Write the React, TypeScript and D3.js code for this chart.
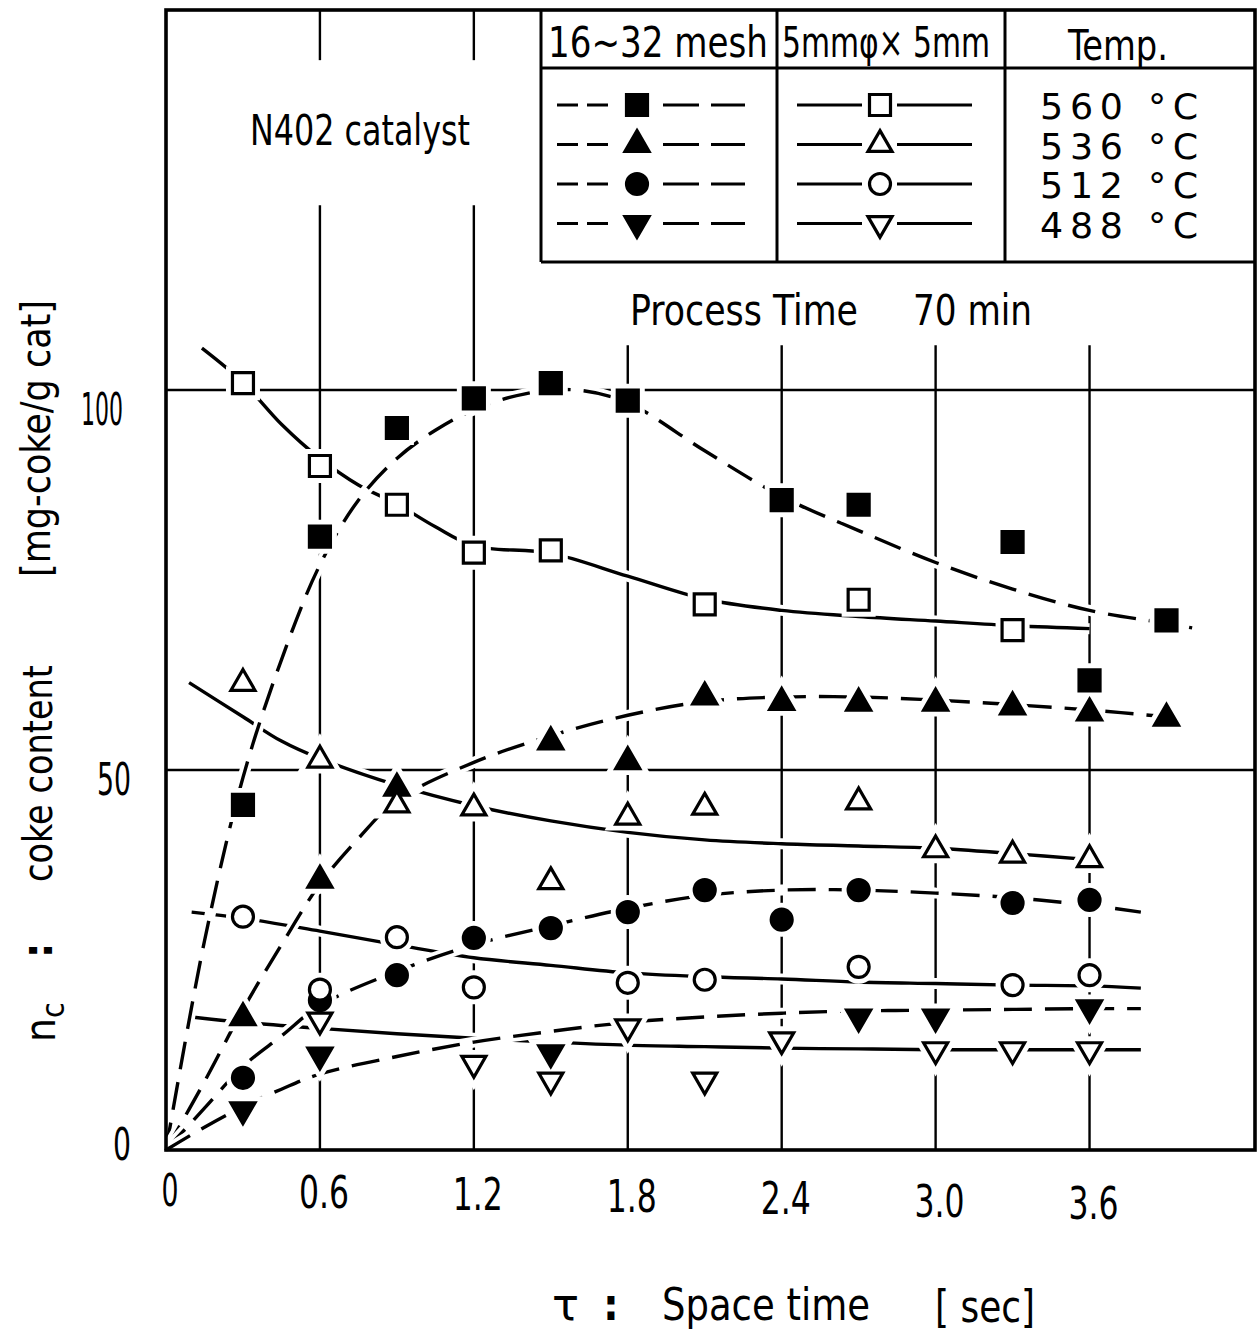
import React from "react";
import * as d3 from "d3";

type Pt = [number, number];

// ---- measured coke content [mg-coke/g cat] vs space time [sec] ----
// 16–32 mesh particles (filled symbols, dashed trend lines)
const mesh560: Pt[] = [[0.3, 45.4], [0.6, 80.7], [0.9, 95.0], [1.2, 98.9], [1.5, 100.9], [1.8, 98.6], [2.4, 85.5], [2.7, 84.9], [3.3, 80.0], [3.6, 61.8], [3.9, 69.7]];
const mesh536: Pt[] = [[0.3, 17.4], [0.6, 35.5], [0.9, 47.6], [1.5, 53.7], [1.8, 51.1], [2.1, 59.6], [2.4, 58.9], [2.7, 58.8], [3.0, 58.8], [3.3, 58.3], [3.6, 57.5], [3.9, 56.8]];
const mesh512: Pt[] = [[0.3, 9.5], [0.6, 19.7], [0.9, 23.0], [1.2, 27.9], [1.5, 29.2], [1.8, 31.3], [2.1, 34.2], [2.4, 30.3], [2.7, 34.2], [3.3, 32.5], [3.6, 32.9]];
const mesh488: Pt[] = [[0.3, 5.3], [0.6, 12.5], [1.5, 12.8], [2.7, 17.5], [3.0, 17.5], [3.6, 18.7]];

// 5mmφ × 5mm pellets (open symbols, solid trend lines)
const pellet560: Pt[] = [[0.3, 100.9], [0.6, 90.0], [0.9, 84.9], [1.2, 78.6], [1.5, 78.9], [2.1, 71.8], [2.7, 72.4], [3.3, 68.4]];
const pellet536: Pt[] = [[0.3, 61.4], [0.6, 51.3], [0.9, 45.4], [1.2, 45.0], [1.5, 35.3], [1.8, 43.8], [2.1, 45.1], [2.7, 45.8], [3.0, 39.5], [3.3, 38.8], [3.6, 38.2]];
const pellet512: Pt[] = [[0.3, 30.7], [0.6, 21.1], [0.9, 28.0], [1.2, 21.4], [1.8, 22.0], [2.1, 22.4], [2.7, 24.1], [3.3, 21.7], [3.6, 23.0]];
const pellet488: Pt[] = [[0.6, 17.1], [1.2, 11.4], [1.5, 9.2], [1.8, 16.2], [2.1, 9.2], [2.4, 14.5], [3.0, 13.2], [3.3, 13.2], [3.6, 13.2]];

// ---- hand-drawn trend curves ----
const mesh560Trend: Pt[] = [[0, 0], [0.15, 27.5], [0.3, 49], [0.45, 64.5], [0.6, 77], [0.75, 85.5], [0.9, 91], [1.05, 94.7], [1.2, 97.4], [1.4, 99.5], [1.6, 100], [1.8, 98.3], [2.1, 92], [2.4, 86], [2.7, 81.5], [3.0, 77.3], [3.3, 73.8], [3.6, 71], [3.9, 69.3], [4.0, 68.7]];
const mesh536Trend: Pt[] = [[0, 0], [0.15, 9], [0.3, 18.5], [0.45, 27], [0.6, 35], [0.75, 41], [0.9, 46], [1.2, 51], [1.5, 54.5], [1.8, 57.2], [2.1, 59], [2.4, 59.6], [2.7, 59.6], [3.0, 59.2], [3.3, 58.6], [3.6, 57.9], [3.9, 57]];
const mesh512Trend: Pt[] = [[0, 0], [0.15, 5.5], [0.3, 11], [0.45, 15], [0.6, 19], [0.9, 23.5], [1.2, 27], [1.5, 29.5], [1.8, 31.8], [2.1, 33.5], [2.4, 34.2], [2.7, 34.2], [3.0, 33.8], [3.3, 33.2], [3.6, 32.2], [3.8, 31.3]];
const mesh488Trend: Pt[] = [[0, 0], [0.15, 3], [0.3, 5.7], [0.45, 8], [0.6, 10], [0.9, 12.3], [1.2, 14.2], [1.5, 15.6], [1.8, 16.8], [2.1, 17.5], [2.4, 18.0], [2.7, 18.3], [3.0, 18.4], [3.3, 18.5], [3.6, 18.6], [3.8, 18.6]];

const pellet560Trend: Pt[] = [[0.14, 105.5], [0.3, 101], [0.45, 95.5], [0.6, 91], [0.75, 87.5], [0.9, 85], [1.05, 82], [1.2, 79.5], [1.5, 78.5], [1.8, 75.5], [2.1, 72.5], [2.4, 71], [2.7, 70.2], [3.0, 69.6], [3.3, 69.0], [3.6, 68.6]];
const pellet536Trend: Pt[] = [[0.09, 61.5], [0.3, 57], [0.45, 53.8], [0.6, 51.5], [0.9, 48], [1.2, 45.3], [1.5, 43.3], [1.8, 41.8], [2.1, 40.8], [2.4, 40.3], [2.7, 40.0], [3.0, 39.7], [3.3, 39.0], [3.6, 38.2]];
const pellet512Trend: Pt[] = [[0.1, 31.3], [0.3, 30.5], [0.6, 28.8], [0.9, 27], [1.2, 25.3], [1.5, 24.3], [1.8, 23.3], [2.1, 22.8], [2.4, 22.5], [2.7, 22.1], [3.0, 21.9], [3.3, 21.7], [3.6, 21.6], [3.8, 21.3]];
const pellet488Trend: Pt[] = [[0.1, 17.5], [0.3, 16.8], [0.6, 16.0], [0.9, 15.3], [1.2, 14.7], [1.5, 14.2], [1.8, 13.8], [2.1, 13.6], [2.4, 13.4], [2.7, 13.3], [3.0, 13.2], [3.3, 13.2], [3.6, 13.2], [3.8, 13.2]];

// ---- axis ticks and legend labels ----
const xTicks = [0, 0.6, 1.2, 1.8, 2.4, 3.0, 3.6];
const xTickLabels = ["0", "0.6", "1.2", "1.8", "2.4", "3.0", "3.6"];
const yTicks = [0, 50, 100];
const yTickLabels = ["0", "50", "100"];
const xGrid = [0.6, 1.2, 1.8, 2.4, 3.0, 3.6];
const yGrid = [50, 100];
const tempLabels = ["560 °C", "536 °C", "512 °C", "488 °C"];
const shapes = ["square", "triangle", "circle", "down"];

const FONT = "'DejaVu Sans Condensed', 'Liberation Sans Narrow', 'DejaVu Sans', sans-serif";

const W = 1258;
const H = 1337;
const x = d3.scaleLinear().domain([0, 4.245]).range([166, 1255]);
const y = d3.scaleLinear().domain([0, 150]).range([1150, 10]);

const symbolPath = (shape: string): string => {
  const gen = d3.symbol();
  if (shape === "square") return gen.type(d3.symbolSquare).size(21 * 21)() as string;
  if (shape === "circle") return gen.type(d3.symbolCircle).size(Math.PI * 10.5 * 10.5)() as string;
  return gen.type(d3.symbolTriangle).size(250)() as string;
};

const Marker = ({ cx, cy, shape, filled, halo }: { cx: number; cy: number; shape: string; filled: boolean; halo?: boolean }) => {
  const rot = shape === "down" ? " rotate(180)" : "";
  return (
    <path
      d={symbolPath(shape)}
      transform={`translate(${cx},${cy})${rot}`}
      fill={halo ? "#fff" : filled ? "#000" : "#fff"}
      stroke={halo ? "#fff" : "#000"}
      strokeWidth={halo ? 13 : 3.2}
      strokeLinejoin="miter"
    />
  );
};

const series = [
  { pts: pellet560, trend: pellet560Trend, shape: "square", filled: false },
  { pts: pellet536, trend: pellet536Trend, shape: "triangle", filled: false },
  { pts: pellet512, trend: pellet512Trend, shape: "circle", filled: false },
  { pts: pellet488, trend: pellet488Trend, shape: "down", filled: false },
  { pts: mesh560, trend: mesh560Trend, shape: "square", filled: true },
  { pts: mesh536, trend: mesh536Trend, shape: "triangle", filled: true },
  { pts: mesh512, trend: mesh512Trend, shape: "circle", filled: true },
  { pts: mesh488, trend: mesh488Trend, shape: "down", filled: true },
];

const line = d3
  .line<Pt>()
  .x((d) => x(d[0]))
  .y((d) => y(d[1]))
  .curve(d3.curveCatmullRom.alpha(0.5));

// vertical grid segments (value ranges), broken around the annotations
const gridSpans = (v: number): Pt[] => (v < 1.5 ? [[150, 143.4], [124.3, 0]] : [[105.9, 0]]);

export default function App() {
  const legendRows = [105, 144.5, 184, 223.5];
  const txt = (props: any, s: string) => (
    <text fontFamily={FONT} lengthAdjust="spacingAndGlyphs" {...props}>
      {s}
    </text>
  );
  const filledSeries = series.filter((s) => s.filled);
  const openSeries = series.filter((s) => !s.filled);

  return (
    <svg width={W} height={H} viewBox={`0 0 ${W} ${H}`} style={{ position: "absolute", left: 0, top: 0, background: "#fff" }}>
      <rect x={0} y={0} width={W} height={H} fill="#fff" />

      {/* grid */}
      {yGrid.map((v) => (
        <line key={`h${v}`} x1={x(0)} x2={x(4.245)} y1={y(v)} y2={y(v)} stroke="#000" strokeWidth={2.4} />
      ))}
      {xGrid.map((v) =>
        gridSpans(v).map((s, i) => (
          <line key={`v${v}-${i}`} x1={x(v)} x2={x(v)} y1={y(s[0])} y2={y(s[1])} stroke="#000" strokeWidth={2.4} />
        ))
      )}

      {/* trend curves with white underlay so crossings break */}
      {series.map((s, i) => (
        <g key={`c${i}`}>
          <path d={line(s.trend) as string} fill="none" stroke="#fff" strokeWidth={11} />
          <path
            d={line(s.trend) as string}
            fill="none"
            stroke="#000"
            strokeWidth={3.4}
            strokeDasharray={s.filled ? "28 13" : undefined}
          />
        </g>
      ))}

      {/* marker halos */}
      {series.map((s, i) =>
        s.pts.map((p, j) => <Marker key={`h${i}-${j}`} cx={x(p[0])} cy={y(p[1])} shape={s.shape} filled={s.filled} halo />)
      )}
      {filledSeries.map((s, i) =>
        s.pts.map((p, j) => <Marker key={`f${i}-${j}`} cx={x(p[0])} cy={y(p[1])} shape={s.shape} filled />)
      )}
      {openSeries.map((s, i) =>
        s.pts.map((p, j) => <Marker key={`o${i}-${j}`} cx={x(p[0])} cy={y(p[1])} shape={s.shape} filled={false} />)
      )}

      {/* legend table */}
      <g stroke="#000" strokeWidth={3}>
        <line x1={541} x2={541} y1={y(150)} y2={262} />
        <line x1={777} x2={777} y1={y(150)} y2={262} />
        <line x1={1005} x2={1005} y1={y(150)} y2={262} />
        <line x1={541} x2={1255} y1={68} y2={68} />
        <line x1={541} x2={1255} y1={262} y2={262} />
      </g>
      {txt({ x: 548, y: 57, fontSize: 42, textLength: 220 }, "16∼32 mesh")}
      {txt({ x: 782, y: 57, fontSize: 42, textLength: 208 }, "5mmφ× 5mm")}
      {txt({ x: 1068, y: 60, fontSize: 42, textLength: 100 }, "Temp.")}
      {legendRows.map((ry, i) => (
        <g key={`lg${i}`}>
          <line x1={557} x2={612} y1={ry} y2={ry} stroke="#000" strokeWidth={3.2} strokeDasharray="21 9" />
          <line x1={663} x2={745} y1={ry} y2={ry} stroke="#000" strokeWidth={3.2} strokeDasharray="36 12" />
          <Marker cx={637} cy={ry} shape={shapes[i]} filled />
          <line x1={797} x2={862} y1={ry} y2={ry} stroke="#000" strokeWidth={3.2} />
          <line x1={897} x2={972} y1={ry} y2={ry} stroke="#000" strokeWidth={3.2} />
          <Marker cx={880} cy={ry} shape={shapes[i]} filled={false} />
          <text
            x={1040}
            y={ry + 14}
            fontFamily={FONT}
            fontSize={36}
            letterSpacing={6}
            textLength={165}
            lengthAdjust="spacingAndGlyphs"
          >
            {tempLabels[i]}
          </text>
        </g>
      ))}

      {/* frame */}
      <rect x={x(0)} y={y(150)} width={x(4.245) - x(0)} height={y(0) - y(150)} fill="none" stroke="#000" strokeWidth={3.6} />

      {/* annotations */}
      {txt({ x: 250, y: 145, fontSize: 42, textLength: 220 }, "N402 catalyst")}
      {txt({ x: 630, y: 325, fontSize: 42, textLength: 228 }, "Process Time")}
      {txt({ x: 913, y: 325, fontSize: 42, textLength: 119 }, "70 min")}

      {/* tick labels */}
      {xTicks.map((v, i) => (
        <text
          key={`xt${v}`}
          x={x(v) + 4}
          y={1206 + v * 3.5}
          textAnchor="middle"
          fontFamily={FONT}
          fontSize={44}
          textLength={v === 0 ? 17 : 50}
          lengthAdjust="spacingAndGlyphs"
        >
          {xTickLabels[i]}
        </text>
      ))}
      {yTicks.map((v, i) => (
        <text
          key={`yt${v}`}
          x={131 - (v === 100 ? 8 : 0)}
          y={y(v) + (v === 0 ? 10 : v === 50 ? 25 : 35)}
          textAnchor="end"
          fontFamily={FONT}
          fontSize={44}
          textLength={v === 0 ? 18 : v === 50 ? 34 : 42}
          lengthAdjust="spacingAndGlyphs"
        >
          {yTickLabels[i]}
        </text>
      ))}

      {/* y axis title */}
      <g fontFamily={FONT}>
        <text transform="translate(55,1042) rotate(-90)" fontSize={42}>
          <tspan>n</tspan>
          <tspan fontSize={32} dy={9}>c</tspan>
        </text>
        <text transform="translate(52,958) rotate(-90)" fontSize={42} fontWeight="bold">:</text>
        <text transform="translate(52,882) rotate(-90)" fontSize={40} textLength={217} lengthAdjust="spacingAndGlyphs">
          coke content
        </text>
        <text transform="translate(50,577) rotate(-90)" fontSize={40} textLength={277} lengthAdjust="spacingAndGlyphs">
          [mg-coke/g cat]
        </text>
      </g>

      {/* x axis title */}
      <g fontFamily={FONT} fontSize={44}>
        <text x={552} y={1320} textLength={27} lengthAdjust="spacingAndGlyphs">τ</text>
        <text x={603} y={1320} fontWeight="bold">:</text>
        <text x={662} y={1320} textLength={208} lengthAdjust="spacingAndGlyphs">Space time</text>
        <text x={935} y={1322} textLength={100} lengthAdjust="spacingAndGlyphs">[ sec]</text>
      </g>
    </svg>
  );
}
